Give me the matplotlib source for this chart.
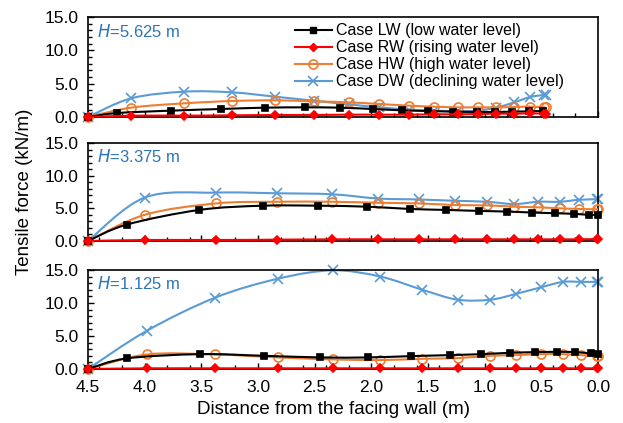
import numpy as np
import matplotlib
matplotlib.use("Agg")
import matplotlib.pyplot as plt
from matplotlib.path import Path
from matplotlib.patches import PathPatch
from matplotlib.lines import Line2D
from matplotlib.ticker import MultipleLocator, FormatStrFormatter

plt.rcParams['font.family'] = ['Liberation Sans', 'DejaVu Sans']

# цвета серий
c_lw = 'black'
c_rw = '#ff0000'
c_hw = '#ed7d31'
c_dw = '#5b9bd5'

labels = ['Case LW (low water level)', 'Case RW (rising water level)',
          'Case HW (high water level)', 'Case DW (declining water level)']
heights = ['5.625', '3.375', '1.125']

# H = 5.625 m
x_top = [4.5, 4.12, 3.65, 3.23, 2.85, 2.51, 2.20, 1.93, 1.67, 1.45, 1.24, 1.06, 0.90, 0.74, 0.60, 0.48, 0.46]
x_top_lw = [4.5, 4.24, 3.77, 3.33, 2.94, 2.59, 2.28, 1.99, 1.73, 1.50, 1.28, 1.07, 0.91, 0.76, 0.61, 0.49]
top_lw = [0, 0.6, 0.95, 1.2, 1.4, 1.45, 1.4, 1.2, 1.0, 0.9, 0.8, 0.75, 0.75, 0.8, 0.85, 0.9]
top_rw = [0, 0.2, 0.2, 0.25, 0.3, 0.3, 0.35, 0.35, 0.35, 0.4, 0.4, 0.45, 0.5, 0.5, 0.55, 0.5, 0.5]
top_hw = [0, 1.4, 2.05, 2.4, 2.5, 2.35, 2.2, 1.95, 1.7, 1.55, 1.45, 1.45, 1.45, 1.5, 1.55, 1.45, 1.45]
top_dw = [0, 2.8, 3.8, 3.7, 3.05, 2.45, 1.9, 1.45, 1.1, 0.95, 0.9, 0.95, 1.4, 2.2, 3.0, 3.3, 3.3]

# H = 3.375 m
x_mid = [4.5, 4.0, 3.37, 2.83, 2.35, 1.94, 1.58, 1.26, 0.98, 0.74, 0.53, 0.34, 0.17, 0.01, 0.0]
x_mid_lw = [4.5, 4.16, 3.52, 2.96, 2.47, 2.04, 1.66, 1.34, 1.05, 0.80, 0.58, 0.38, 0.21, 0.08, 0.0]
mid_lw = [0, 2.5, 4.75, 5.4, 5.4, 5.25, 4.9, 4.75, 4.6, 4.5, 4.35, 4.25, 4.15, 4.0, 4.0]
mid_rw = [0, 0.15, 0.15, 0.2, 0.25, 0.25, 0.25, 0.25, 0.25, 0.25, 0.25, 0.25, 0.25, 0.3, 0.3]
mid_hw = [0, 4.0, 5.75, 6.0, 6.0, 5.85, 5.75, 5.5, 5.45, 5.25, 5.15, 5.0, 4.9, 4.85, 4.9]
mid_dw = [0, 6.65, 7.4, 7.3, 7.15, 6.5, 6.35, 6.15, 6.0, 5.65, 6.0, 6.0, 6.3, 6.4, 6.5]

# H = 1.125 m
x_bot = [4.5, 3.98, 3.38, 2.82, 2.34, 1.92, 1.55, 1.24, 0.95, 0.72, 0.50, 0.31, 0.15, 0.01, 0.0]
x_bot_lw = [4.5, 4.16, 3.51, 2.95, 2.45, 2.03, 1.65, 1.31, 1.03, 0.78, 0.56, 0.36, 0.20, 0.06, 0.0]
bot_lw = [0, 1.6, 2.25, 2.0, 1.75, 1.75, 1.95, 2.1, 2.25, 2.45, 2.55, 2.6, 2.55, 2.35, 2.25]
bot_rw = [0, 0.1, 0.1, 0.1, 0.1, 0.1, 0.1, 0.1, 0.1, 0.1, 0.1, 0.1, 0.1, 0.1, 0.1]
bot_hw = [0, 2.2, 2.2, 1.75, 1.45, 1.35, 1.55, 1.65, 2.0, 2.1, 2.25, 2.25, 2.1, 1.95, 2.0]
bot_dw = [0, 5.8, 10.8, 13.7, 14.95, 14.0, 12.0, 10.5, 10.5, 11.4, 12.4, 13.2, 13.2, 13.2, 13.2]

panels = [
    (x_top_lw, top_lw, x_top, top_rw, top_hw, top_dw),
    (x_mid_lw, mid_lw, x_mid, mid_rw, mid_hw, mid_dw),
    (x_bot_lw, bot_lw, x_bot, bot_rw, bot_hw, bot_dw),
]


def smooth_path(x, y):
    # сглаженная линия как в Excel: кривые Безье через точки
    p = np.column_stack([x, y]).astype(float)
    n = len(p)
    verts = [p[0]]
    codes = [Path.MOVETO]
    for i in range(n - 1):
        p0 = p[i - 1] if i > 0 else p[i]
        p3 = p[i + 2] if i + 2 < n else p[i + 1]
        c1 = p[i] + (p[i + 1] - p0) / 6
        c2 = p[i + 1] - (p3 - p[i]) / 6
        verts += [c1, c2, p[i + 1]]
        codes += [Path.CURVE4] * 3
    return Path(verts, codes)


def draw_series(ax, x, y, color, marker, ms, mfc, z):
    ax.add_patch(PathPatch(smooth_path(x, y), fill=False, edgecolor=color, lw=1.5, zorder=z))
    ax.plot(x, y, ls='none', marker=marker, ms=ms, color=color, mfc=mfc,
            mec=color, mew=1.2, zorder=z + 0.5, clip_on=False)


fig = plt.figure(figsize=(6.23, 4.23), dpi=100)
boxes = [(0.1413, 0.7234, 0.8187, 0.2364),
         (0.1413, 0.4303, 0.8187, 0.2317),
         (0.1413, 0.1277, 0.8187, 0.2340)]
axes = []
for k, (xl, lw_, xs, rw_, hw_, dw_) in enumerate(panels):
    ax = fig.add_axes(boxes[k])
    axes.append(ax)
    draw_series(ax, xs, dw_, c_dw, 'x', 6.5, c_dw, 2)
    draw_series(ax, xs, hw_, c_hw, 'o', 6.5, 'none', 3)
    draw_series(ax, xl, lw_, c_lw, 's', 4.8, c_lw, 4)
    draw_series(ax, xs, rw_, c_rw, 'D', 3.8, c_rw, 5)
    ax.set_xlim(4.5, 0.0)
    ax.set_ylim(0, 15)
    ax.yaxis.set_major_locator(MultipleLocator(5))
    ax.yaxis.set_minor_locator(MultipleLocator(1))
    ax.xaxis.set_major_locator(MultipleLocator(0.5))
    ax.xaxis.set_minor_locator(MultipleLocator(0.2))
    ax.yaxis.set_major_formatter(FormatStrFormatter('%.1f'))
    ax.xaxis.set_major_formatter(FormatStrFormatter('%.1f'))
    ax.tick_params(which='both', direction='in', top=False, right=False, labelsize=12.5)
    ax.tick_params(which='major', length=4, width=1)
    ax.tick_params(which='minor', length=3, width=1)
    ax.tick_params(axis='y', pad=7)
    ax.tick_params(axis='x', pad=8)
    for s in ax.spines.values():
        s.set_linewidth(1.2)
    if k < 2:
        ax.tick_params(axis='x', labelbottom=False)
    ax.text(0.018, 0.86, '$H$=' + heights[k] + ' m', transform=ax.transAxes,
            color='#2e75b6', fontsize=12, va='center', ha='left')

axes[2].set_xlabel('Distance from the facing wall (m)', fontsize=13.5, labelpad=4)
axes[2].xaxis.label.set_x(0.482)
fig.text(0.040, 0.546, 'Tensile force (kN/m)', rotation=90, fontsize=13.5,
         ha='center', va='center')

handles = [
    Line2D([], [], color=c_lw, lw=1.5, marker='s', ms=4.8),
    Line2D([], [], color=c_rw, lw=1.5, marker='D', ms=3.8),
    Line2D([], [], color=c_hw, lw=1.5, marker='o', ms=6.5, mfc='none', mew=1.2),
    Line2D([], [], color=c_dw, lw=1.5, marker='x', ms=6.5, mew=1.2),
]
axes[0].legend(handles, labels, loc='upper right', bbox_to_anchor=(0.945, 1.0),
               frameon=False, fontsize=11.5, handlelength=2.3, handletextpad=0.25,
               labelspacing=0.12, borderaxespad=0)

fig.savefig('out.png', dpi=100)
